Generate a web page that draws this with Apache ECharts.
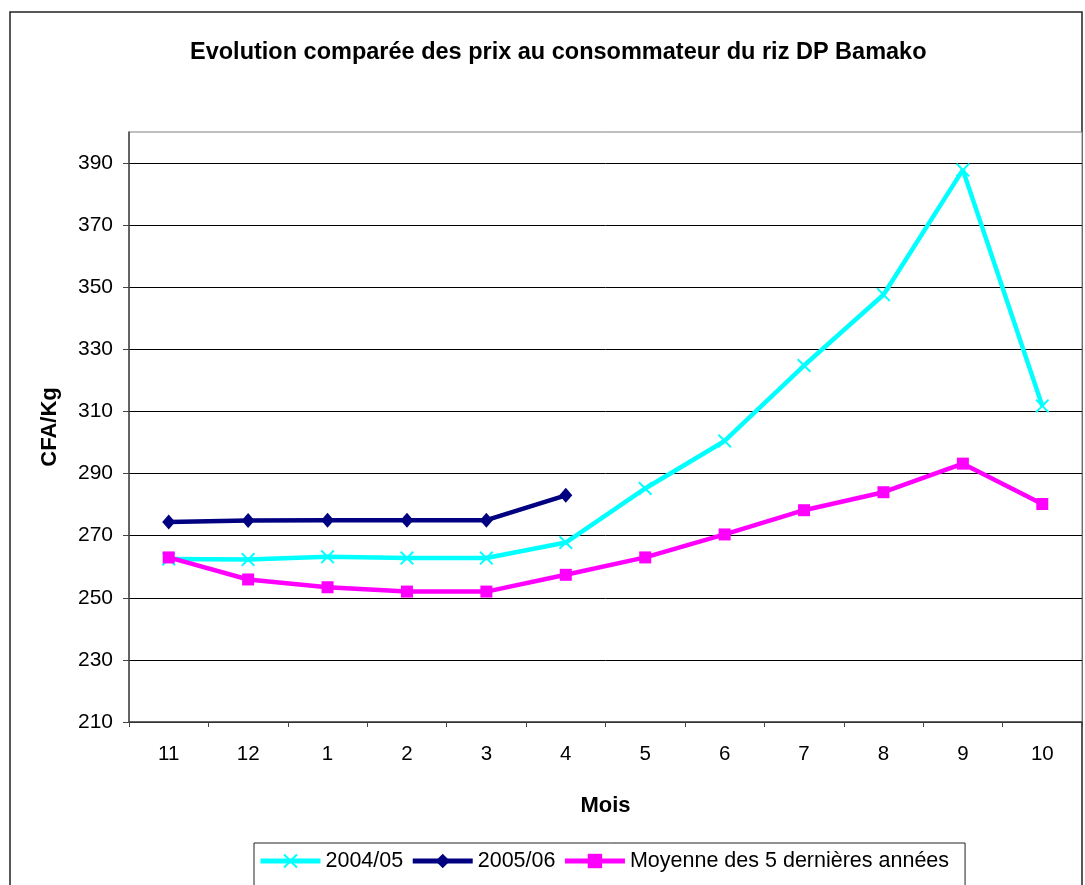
<!DOCTYPE html>
<html>
<head>
<meta charset="utf-8">
<script src="https://cdn.jsdelivr.net/npm/echarts@6/dist/echarts.min.js"></script>
<style>
  html, body { margin: 0; padding: 0; background: #fff; }
  #chart { width: 1085px; height: 885px; }
</style>
</head>
<body>
<div id="chart"></div>
<script>
  // mois (nov -> oct)
  var months = ['11', '12', '1', '2', '3', '4', '5', '6', '7', '8', '9', '10'];
  var yTicks = [210, 230, 250, 270, 290, 310, 330, 350, 370, 390];

  var prix2004 = [262.5, 262.3, 263.2, 262.8, 262.8, 267.8, 285.2, 300.5, 324.8, 347.6, 387.8, 311.8];
  var prix2005 = [274.4, 274.9, 275, 275, 275, 283, null, null, null, null, null, null];
  var moyenne5 = [263, 255.9, 253.4, 252, 252, 257.4, 263, 270.4, 278.2, 284, 293.2, 280.2];

  var font = '"Liberation Sans", Arial, sans-serif';
  var crossPath = 'path://M0,1 L1,0 L5,4 L9,0 L10,1 L6,5 L10,9 L9,10 L5,6 L1,10 L0,9 L4,5 Z';

  var chart = echarts.init(document.getElementById('chart'));
  chart.setOption({
    animation: false,
    textStyle: { fontFamily: font },
    title: {
      text: 'Evolution comparée des prix au consommateur du riz DP Bamako',
      left: 185,
      top: 36,
      textStyle: { fontSize: 23.5, fontWeight: 'bold', color: '#000', fontFamily: font }
    },
    graphic: [{
      type: 'rect',
      shape: { x: 10, y: 12, width: 1072, height: 900 },
      style: { fill: 'none', stroke: '#222', lineWidth: 1.5 },
      z: -1
    }],
    grid: {
      left: 129, top: 132, right: 3, bottom: 163,
      show: true, borderColor: '#808080', borderWidth: 1, backgroundColor: '#fff'
    },
    legend: {
      left: 254, top: 843,
      padding: [7, 16, 14, 4],
      borderColor: '#222', borderWidth: 1,
      itemWidth: 60, itemHeight: 18, itemGap: 7,
      lineStyle: { width: 5 },
      textStyle: { fontSize: 21.5, color: '#000', fontFamily: font },
      data: ['2004/05', '2005/06', 'Moyenne des 5 dernières années']
    },
    xAxis: {
      type: 'category',
      data: months,
      boundaryGap: true,
      name: 'Mois',
      nameLocation: 'middle',
      nameGap: 73,
      nameTextStyle: { fontSize: 22, fontWeight: 'bold', color: '#000' },
      axisLine: { lineStyle: { color: '#444', width: 1.5 } },
      axisTick: { show: true, length: 5, inside: false, lineStyle: { color: '#444' } },
      axisLabel: { fontSize: 20.5, color: '#000', margin: 22 },
      splitLine: { show: false }
    },
    yAxis: {
      type: 'value',
      min: 210,
      max: 400,
      name: 'CFA/Kg',
      nameLocation: 'middle',
      nameGap: 68,
      nameRotate: 90,
      nameTextStyle: { fontSize: 22, fontWeight: 'bold', color: '#000' },
      axisLine: { show: true, lineStyle: { color: '#444', width: 1.5 } },
      axisTick: { show: true, length: 6, inside: false, customValues: yTicks, lineStyle: { color: '#444' } },
      axisLabel: { fontSize: 21, color: '#000', margin: 16, customValues: yTicks },
      splitLine: { show: true, lineStyle: { color: '#000', width: 1 } }
    },
    series: [{
      name: '2004/05',
      type: 'line',
      data: prix2004,
      symbol: crossPath,
      symbolSize: 14,
      lineStyle: { color: '#00ffff', width: 4.5 },
      itemStyle: { color: '#00ffff' },
      z: 3
    }, {
      name: '2005/06',
      type: 'line',
      data: prix2005,
      symbol: 'diamond',
      symbolSize: [13, 15],
      lineStyle: { color: '#000080', width: 4.5 },
      itemStyle: { color: '#000080' },
      z: 4
    }, {
      name: 'Moyenne des 5 dernières années',
      type: 'line',
      data: moyenne5,
      symbol: 'rect',
      symbolSize: 12,
      lineStyle: { color: '#ff00ff', width: 4.5 },
      itemStyle: { color: '#ff00ff' },
      z: 5
    }]
  });
</script>
</body>
</html>
